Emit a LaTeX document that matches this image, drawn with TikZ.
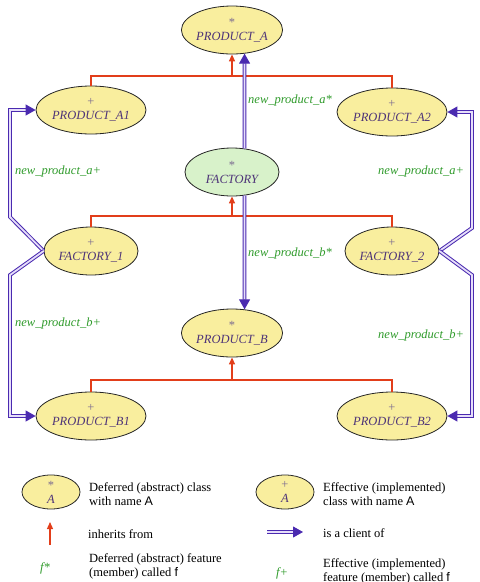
\documentclass[tikz,border=0pt]{standalone}
\usepackage{fontspec}
\setmainfont{Liberation Serif}
\newfontfamily\sansA{Liberation Sans}
\usetikzlibrary{arrows.meta,shapes.geometric}
\definecolor{fillY}{HTML}{F9EE9E}
\definecolor{fillG}{HTML}{D8F2CA}
\definecolor{nameC}{HTML}{4E3478}
\definecolor{starC}{HTML}{7A6A90}
\definecolor{greenC}{HTML}{2E9A2A}
\definecolor{redC}{HTML}{E23E1A}
\definecolor{bluC}{HTML}{4A2AB0}
\definecolor{lavC}{HTML}{E6DEFA}
\begin{document}
\begin{tikzpicture}[x=1pt,y=-1pt,
  cls/.style={ellipse, draw=black!85, line width=0.8pt, fill=fillY,
    minimum width=94pt, minimum height=48pt, inner sep=0pt, align=center,
    font=\fontsize{12.5}{15}\selectfont\itshape, text=nameC},
  inh/.style={draw=redC, line width=1.3pt},
  inha/.style={inh, -{Triangle[length=7pt,width=6pt]}},
  cli/.style={draw=bluC, double=lavC, double distance=1.8pt, line width=1pt,
    -{Triangle[length=10pt,width=11pt]}},
  lab/.style={text=greenC, font=\fontsize{12.5}{15}\selectfont\itshape, anchor=west, inner sep=0pt},
  leg/.style={anchor=west, inner sep=0pt, align=left, font=\fontsize{12.5}{15}\selectfont}
]
\useasboundingbox (0,0) rectangle (480,582);

\newcommand{\cl}[2]{{\color{starC}\upshape #1}\\[-1pt]#2}

% classes
\node[cls] (pa)  at (232,30)  {\cl{*}{PRODUCT\_A}};
\node[cls] (pa1) at (91,110)  {\cl{+}{PRODUCT\_A1}};
\node[cls] (pa2) at (392,112) {\cl{+}{PRODUCT\_A2}};
\node[cls, fill=fillG] (fac) at (232,172) {\cl{*}{FACTORY}};
\node[cls] (f1)  at (91,251)  {\cl{+}{FACTORY\_1}};
\node[cls] (f2)  at (392,251) {\cl{+}{FACTORY\_2}};
\node[cls] (pb)  at (232,333) {\cl{*}{PRODUCT\_B}};
\node[cls] (pb1) at (91,416)  {\cl{+}{PRODUCT\_B1}};
\node[cls] (pb2) at (392,416) {\cl{+}{PRODUCT\_B2}};

% inheritance
\coordinate (ja) at (232,76);
\coordinate (jf) at (232,216);
\coordinate (jb) at (232,380);
\draw[inh] (pa1.north) |- (ja) -| (pa2.north);
\draw[inha] (ja) -- (pa.south);
\draw[inh] (f1.north) |- (jf) -| (f2.north);
\draw[inha] (jf) -- (fac.south);
\draw[inh] (pb1.north) |- (jb) -| (pb2.north);
\draw[inha] (jb) -- (pb.south);

% client
\draw[cli] (fac.62.7) -- (pa.-62.7);
\draw[cli] (fac.-62.7) -- (pb.62.7);
\draw[cli] (f1.west) -- (10,217) |- (pa1.west);
\draw[cli] (f1.west) -- (10,275) |- (pb1.west);
\draw[cli] (f2.east) -- (472,228) |- (pa2.east);
\draw[cli] (f2.east) -- (472,275) |- (pb2.east);

% feature labels
\node[lab] (la1) at (248,100) {new\_product\_a*};
\node[lab] (lb1) at (248,253) {new\_product\_b*};
\node[lab] (la2) at (15,171)  {new\_product\_a+};
\node[lab] (la3) at (378,171) {new\_product\_a+};
\node[lab] (lb2) at (15,323)  {new\_product\_b+};
\node[lab] (lb3) at (378,335) {new\_product\_b+};

% legend
\node[cls, minimum width=58pt, minimum height=34pt] (ld) at (51,492) {\cl{*}{A}};
\node[cls, minimum width=58pt, minimum height=34pt] (le) at (285,492) {\cl{+}{A}};
\node[leg] (tld) at (89,494) {Deferred (abstract) class\\[-1pt]with name {\sansA A}};
\node[leg] (tle) at (323,494) {Effective (implemented)\\[-1pt]class with name {\sansA A}};
\coordinate (ri0) at (50,545);
\coordinate (ri1) at (50,522);
\draw[inha] (ri0) -- (ri1);
\node[leg] (tri) at (88,534) {inherits from};
\coordinate (cl0) at (267,532);
\coordinate (cl1) at (303,532);
\draw[cli] (cl0) -- (cl1);
\node[leg] (tcl) at (323,533) {is a client of};
\node[lab] (fs) at (40,568) {f*};
\node[leg] (tfs) at (89,566) {Deferred (abstract) feature\\[-1pt](member) called {\sansA f}};
\node[lab] (fp) at (276,573) {f+};
\node[leg] (tfp) at (323,571) {Effective (implemented)\\[-1pt]feature (member) called {\sansA f}};
\end{tikzpicture}
\end{document}
